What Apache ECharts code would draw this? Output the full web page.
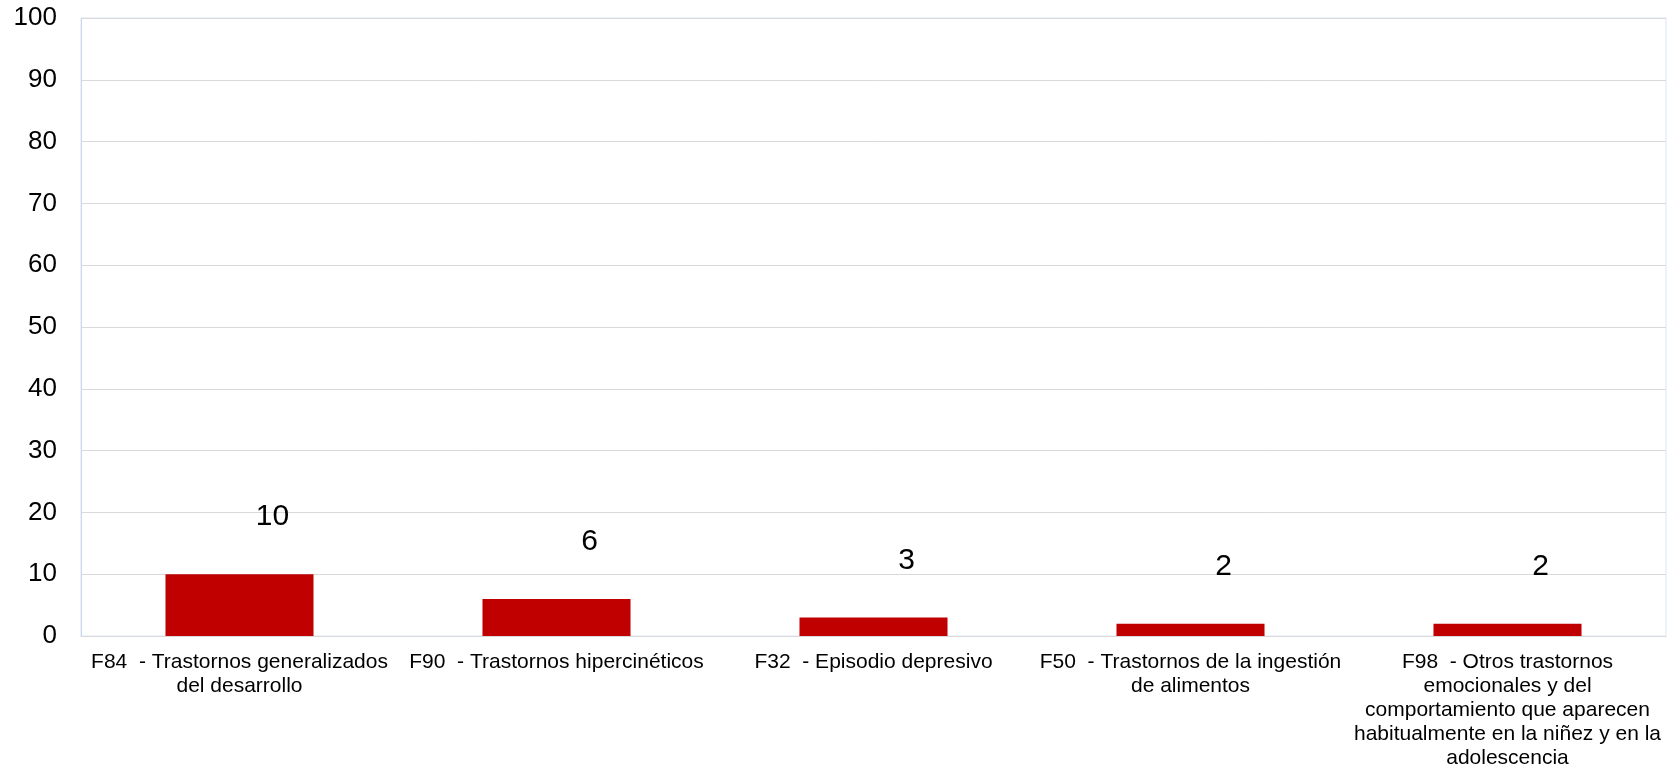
<!DOCTYPE html>
<html>
<head>
<meta charset="utf-8">
<script src="https://cdn.jsdelivr.net/npm/echarts@6/dist/echarts.min.js"></script>
<style>html,body{margin:0;padding:0;background:#fff}#c{width:1672px;height:771px}</style>
</head>
<body>
<div id="c"></div>
<script>
const categories = [
  "F84  - Trastornos generalizados\ndel desarrollo",
  "F90  - Trastornos hipercinéticos",
  "F32  - Episodio depresivo",
  "F50  - Trastornos de la ingestión\nde alimentos",
  "F98  - Otros trastornos\nemocionales y del\ncomportamiento que aparecen\nhabitualmente en la niñez y en la\nadolescencia"
];
const values = [10, 6, 3, 2, 2];
const yMin = 0, yMax = 100, yInterval = 10;

const FONT = '"Liberation Sans", Arial, sans-serif';
const chart = echarts.init(document.getElementById('c'), null, {renderer: 'canvas'});
chart.setOption({
  animation: false,
  backgroundColor: '#ffffff',
  textStyle: {fontFamily: FONT},
  grid: {left: 81, right: 6, top: 18, bottom: 135, containLabel: false,
         show: true, borderColor: '#dde6f3', borderWidth: 1},
  xAxis: {
    type: 'category',
    data: categories,
    axisTick: {show: false},
    axisLine: {show: true, lineStyle: {color: '#d9d9d9', width: 1}},
    axisLabel: {interval: 0, color: '#000', fontSize: 21, lineHeight: 24, margin: 14,
                fontFamily: FONT}
  },
  yAxis: {
    type: 'value',
    min: yMin, max: yMax, interval: yInterval,
    axisLine: {show: true, lineStyle: {color: '#c6d9f0', width: 1}},
    axisTick: {show: false},
    splitLine: {show: true, lineStyle: {color: '#d9d9d9', width: 1}},
    axisLabel: {color: '#000', fontSize: 26, margin: 24, fontFamily: FONT}
  },
  series: [{
    type: 'bar',
    data: values,
    barWidth: '46.7%',
    itemStyle: {color: '#C00000'},
    label: {show: true, position: 'top', distance: 42, offset: [33, 0],
            color: '#000', fontSize: 30, fontFamily: FONT}
  }]
});
</script>
</body>
</html>
